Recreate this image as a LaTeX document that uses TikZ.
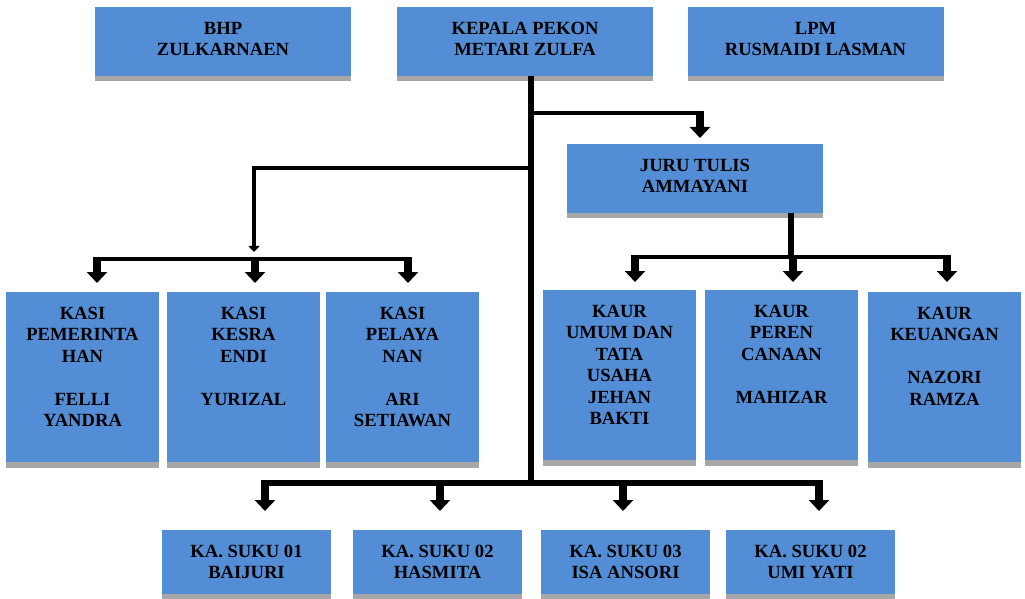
\documentclass[tikz,border=0pt]{standalone}
\usepackage{fontspec}
\setmainfont{Liberation Serif}
\usepackage{xcolor}
\usetikzlibrary{positioning}
\usetikzlibrary{arrows.meta}
\usetikzlibrary{shadows}
\definecolor{boxblue}{RGB}{83,141,213}
\definecolor{stripgray}{RGB}{166,166,166}

\begin{document}
\begin{tikzpicture}[x=1pt, y=1pt, on grid,
      box/.style={fill=boxblue, inner sep=0pt, outer sep=0pt,
        drop shadow={shadow xshift=0pt, shadow yshift=-5.5pt, opacity=1, fill=stripgray}},
      headbox/.style={box, minimum width=256pt, minimum height=69pt},
      staffbox/.style={box, minimum width=153pt, minimum height=170pt},
      sukubox/.style={box, minimum width=169pt, minimum height=64pt},
      txt/.style={anchor=north, yshift=-14.7pt, inner sep=0pt, align=center,
        font=\fontsize{18.6}{21.5}\selectfont\bfseries},
      trunk/.style={line width=6pt},
      branch/.style={line width=4pt},
      blockarrow/.style={line width=8.5pt, -{Triangle[width=20pt,length=11pt]}}]

      \useasboundingbox (0,0) rectangle (1025,598);

      \node[headbox, label={[txt]north:{KEPALA PEKON\\METARI ZULFA}}] (kepala) at (525,556.5) {};
      \node[headbox, label={[txt]north:{BHP\\ZULKARNAEN}}] (bhp) [left=302pt of kepala] {};
      \node[headbox, label={[txt]north:{LPM\\RUSMAIDI LASMAN}}] (lpm) [right=290.5pt of kepala] {};

      \node[headbox, label={[txt]north:{JURU TULIS\\AMMAYANI}}] (juru) [below right=137pt and 170pt of kepala] {};

      \node[staffbox, label={[txt]north:{KASI\\KESRA\\ENDI\\[21.5pt]YURIZAL}}] (kasi2) [below left=335.5pt and 281.5pt of kepala] {};
      \node[staffbox, label={[txt]north:{KASI\\PEMERINTA\\HAN\\[21.5pt]FELLI\\YANDRA}}] (kasi1) [left=161pt of kasi2] {};
      \node[staffbox, label={[txt]north:{KASI\\PELAYA\\NAN\\[21.5pt]ARI\\SETIAWAN}}] (kasi3) [right=159pt of kasi2] {};

      \node[staffbox, label={[txt]north:{KAUR\\PEREN\\CANAAN\\[21.5pt]MAHIZAR}}] (kaur2) [below right=196.5pt and 86.5pt of juru] {};
      \node[staffbox, label={[txt]north:{KAUR\\UMUM DAN\\TATA\\USAHA\\JEHAN\\BAKTI}}] (kaur1) [left=162pt of kaur2] {};
      \node[staffbox, label={[txt]north:{KAUR\\KEUANGAN\\[21.5pt]NAZORI\\RAMZA}}] (kaur3) [right=163pt of kaur2, yshift=-2pt] {};

      \node[sukubox, label={[txt]north:{KA. SUKU 01\\BAIJURI}}] (suku1) [below left=520.5pt and 278.5pt of kepala] {};
      \node[sukubox, label={[txt]north:{KA. SUKU 02\\HASMITA}}] (suku2) [right=191pt of suku1] {};
      \node[sukubox, label={[txt]north:{KA. SUKU 03\\ISA ANSORI}}] (suku3) [right=188pt of suku2] {};
      \node[sukubox, label={[txt]north:{KA. SUKU 02\\UMI YATI}}] (suku4) [right=185pt of suku3] {};

      % main line down from kepala
      \draw[trunk] ([xshift=6pt]kepala.south) -- ([xshift=6pt,yshift=-410pt]kepala.south);

      % juru tulis
      \draw[branch] ([xshift=6pt,yshift=-37pt]kepala.south) -- ([xshift=5pt,yshift=31pt]juru.north);
      \draw[blockarrow] ([xshift=5pt,yshift=33pt]juru.north) -- ([xshift=5pt,yshift=6pt]juru.north);

      % kasi
      \draw[branch, -{Triangle[width=11pt,length=6pt]}] ([xshift=6pt,yshift=-92pt]kepala.south) -| ([xshift=10.5pt,yshift=40pt]kasi2.north);
      \draw[branch] ([xshift=14.5pt,yshift=33pt]kasi1.north) -- ([xshift=5.5pt,yshift=33pt]kasi3.north);
      \draw[blockarrow] ([xshift=14.5pt,yshift=35pt]kasi1.north) -- ([xshift=14.5pt,yshift=9pt]kasi1.north);
      \draw[blockarrow] ([xshift=11.5pt,yshift=35pt]kasi2.north) -- ([xshift=11.5pt,yshift=9pt]kasi2.north);
      \draw[blockarrow] ([xshift=5.5pt,yshift=35pt]kasi3.north) -- ([xshift=5.5pt,yshift=9pt]kasi3.north);

      % kaur
      \draw[trunk] ([xshift=96pt]juru.south) -- ([xshift=96pt,yshift=-46pt]juru.south);
      \draw[branch] ([xshift=15.5pt,yshift=33pt]kaur1.north) -- ([xshift=2.5pt,yshift=35pt]kaur3.north);
      \draw[blockarrow] ([xshift=15.5pt,yshift=35pt]kaur1.north) -- ([xshift=15.5pt,yshift=8pt]kaur1.north);
      \draw[blockarrow] ([xshift=11.5pt,yshift=35pt]kaur2.north) -- ([xshift=11.5pt,yshift=8pt]kaur2.north);
      \draw[blockarrow] ([xshift=2.5pt,yshift=37pt]kaur3.north) -- ([xshift=2.5pt,yshift=10pt]kaur3.north);

      % ka. suku
      \draw[trunk] ([xshift=18.5pt,yshift=47pt]suku1.north) -- ([xshift=8.5pt,yshift=47pt]suku4.north);
      \draw[blockarrow] ([xshift=18.5pt,yshift=50pt]suku1.north) -- ([xshift=18.5pt,yshift=19pt]suku1.north);
      \draw[blockarrow] ([xshift=2.5pt,yshift=50pt]suku2.north) -- ([xshift=2.5pt,yshift=19pt]suku2.north);
      \draw[blockarrow] ([xshift=-2.5pt,yshift=50pt]suku3.north) -- ([xshift=-2.5pt,yshift=19pt]suku3.north);
      \draw[blockarrow] ([xshift=8.5pt,yshift=50pt]suku4.north) -- ([xshift=8.5pt,yshift=19pt]suku4.north);

    \end{tikzpicture}
\end{document}
